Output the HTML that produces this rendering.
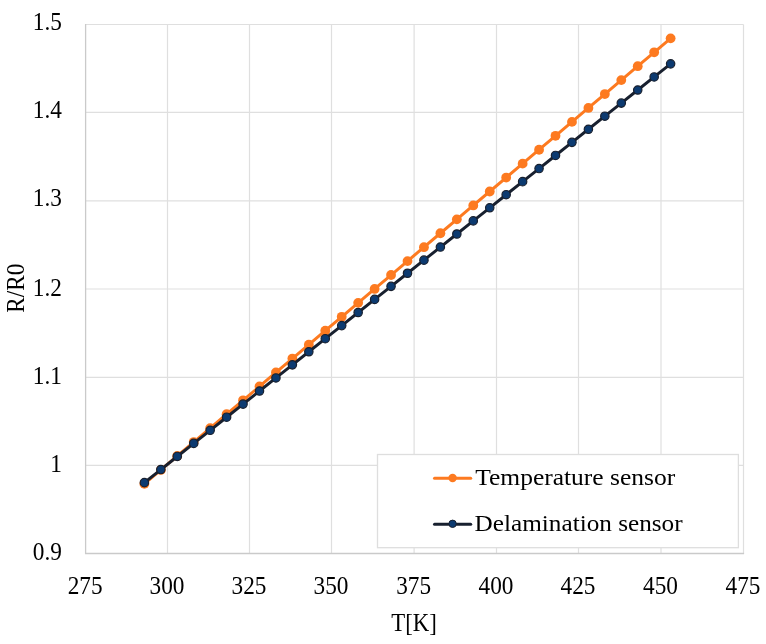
<!DOCTYPE html>
<html><head><meta charset="utf-8"><style>
html,body{margin:0;padding:0;background:#fff;}
svg{display:block;will-change:transform;}
text{font-family:"Liberation Serif",serif;font-size:24px;fill:#000;}
</style></head><body>
<svg width="766" height="644" viewBox="0 0 766 644">
<rect width="766" height="644" fill="#fff"/>
<g stroke="#DFDFDF" stroke-width="1.2" fill="none"><line x1="167.5" y1="24.5" x2="167.5" y2="553.5"/><line x1="249.5" y1="24.5" x2="249.5" y2="553.5"/><line x1="331.5" y1="24.5" x2="331.5" y2="553.5"/><line x1="414.1" y1="24.5" x2="414.1" y2="553.5"/><line x1="496.5" y1="24.5" x2="496.5" y2="553.5"/><line x1="578.5" y1="24.5" x2="578.5" y2="553.5"/><line x1="661.0" y1="24.5" x2="661.0" y2="553.5"/><line x1="743.5" y1="24.5" x2="743.5" y2="553.5"/><line x1="85.6" y1="24.5" x2="743.5" y2="24.5"/><line x1="85.6" y1="112.4" x2="743.5" y2="112.4"/><line x1="85.6" y1="200.8" x2="743.5" y2="200.8"/><line x1="85.6" y1="289.0" x2="743.5" y2="289.0"/><line x1="85.6" y1="377.3" x2="743.5" y2="377.3"/><line x1="85.6" y1="465.4" x2="743.5" y2="465.4"/></g>
<g stroke="#CACACA" stroke-width="1.3" fill="none"><line x1="85.6" y1="23.9" x2="85.6" y2="554.1"/><line x1="85.0" y1="553.5" x2="744.1" y2="553.5"/></g>
<polyline points="144.38,483.85 160.83,469.93 177.27,456.00 193.72,442.08 210.16,428.16 226.61,414.24 243.05,400.32 259.50,386.40 275.94,372.48 292.39,358.55 308.83,344.63 325.28,330.71 341.72,316.79 358.17,302.87 374.61,288.95 391.06,275.02 407.50,261.10 423.95,247.18 440.39,233.26 456.84,219.34 473.28,205.42 489.73,191.50 506.17,177.57 522.62,163.65 539.06,149.73 555.51,135.81 571.95,121.89 588.40,107.97 604.84,94.04 621.29,80.12 637.73,66.20 654.18,52.28 670.62,38.36" fill="none" stroke="#FD7A20" stroke-width="3.0" stroke-linejoin="round"/>
<circle cx="144.38" cy="483.85" r="4.9" fill="#FD7A20"/><circle cx="160.83" cy="469.93" r="4.9" fill="#FD7A20"/><circle cx="177.27" cy="456.00" r="4.9" fill="#FD7A20"/><circle cx="193.72" cy="442.08" r="4.9" fill="#FD7A20"/><circle cx="210.16" cy="428.16" r="4.9" fill="#FD7A20"/><circle cx="226.61" cy="414.24" r="4.9" fill="#FD7A20"/><circle cx="243.05" cy="400.32" r="4.9" fill="#FD7A20"/><circle cx="259.50" cy="386.40" r="4.9" fill="#FD7A20"/><circle cx="275.94" cy="372.48" r="4.9" fill="#FD7A20"/><circle cx="292.39" cy="358.55" r="4.9" fill="#FD7A20"/><circle cx="308.83" cy="344.63" r="4.9" fill="#FD7A20"/><circle cx="325.28" cy="330.71" r="4.9" fill="#FD7A20"/><circle cx="341.72" cy="316.79" r="4.9" fill="#FD7A20"/><circle cx="358.17" cy="302.87" r="4.9" fill="#FD7A20"/><circle cx="374.61" cy="288.95" r="4.9" fill="#FD7A20"/><circle cx="391.06" cy="275.02" r="4.9" fill="#FD7A20"/><circle cx="407.50" cy="261.10" r="4.9" fill="#FD7A20"/><circle cx="423.95" cy="247.18" r="4.9" fill="#FD7A20"/><circle cx="440.39" cy="233.26" r="4.9" fill="#FD7A20"/><circle cx="456.84" cy="219.34" r="4.9" fill="#FD7A20"/><circle cx="473.28" cy="205.42" r="4.9" fill="#FD7A20"/><circle cx="489.73" cy="191.50" r="4.9" fill="#FD7A20"/><circle cx="506.17" cy="177.57" r="4.9" fill="#FD7A20"/><circle cx="522.62" cy="163.65" r="4.9" fill="#FD7A20"/><circle cx="539.06" cy="149.73" r="4.9" fill="#FD7A20"/><circle cx="555.51" cy="135.81" r="4.9" fill="#FD7A20"/><circle cx="571.95" cy="121.89" r="4.9" fill="#FD7A20"/><circle cx="588.40" cy="107.97" r="4.9" fill="#FD7A20"/><circle cx="604.84" cy="94.04" r="4.9" fill="#FD7A20"/><circle cx="621.29" cy="80.12" r="4.9" fill="#FD7A20"/><circle cx="637.73" cy="66.20" r="4.9" fill="#FD7A20"/><circle cx="654.18" cy="52.28" r="4.9" fill="#FD7A20"/><circle cx="670.62" cy="38.36" r="4.9" fill="#FD7A20"/>
<polyline points="144.38,482.65 160.83,469.56 177.27,456.47 193.72,443.39 210.16,430.30 226.61,417.21 243.05,404.12 259.50,391.04 275.94,377.95 292.39,364.86 308.83,351.77 325.28,338.69 341.72,325.60 358.17,312.51 374.61,299.42 391.06,286.34 407.50,273.25 423.95,260.16 440.39,247.07 456.84,233.99 473.28,220.90 489.73,207.81 506.17,194.72 522.62,181.64 539.06,168.55 555.51,155.46 571.95,142.37 588.40,129.29 604.84,116.20 621.29,103.11 637.73,90.02 654.18,76.94 670.62,63.85" fill="none" stroke="#18202F" stroke-width="3.0" stroke-linejoin="round"/>
<circle cx="144.38" cy="482.65" r="4.2" fill="#0C3A70" stroke="#18202F" stroke-width="1.2"/><circle cx="160.83" cy="469.56" r="4.2" fill="#0C3A70" stroke="#18202F" stroke-width="1.2"/><circle cx="177.27" cy="456.47" r="4.2" fill="#0C3A70" stroke="#18202F" stroke-width="1.2"/><circle cx="193.72" cy="443.39" r="4.2" fill="#0C3A70" stroke="#18202F" stroke-width="1.2"/><circle cx="210.16" cy="430.30" r="4.2" fill="#0C3A70" stroke="#18202F" stroke-width="1.2"/><circle cx="226.61" cy="417.21" r="4.2" fill="#0C3A70" stroke="#18202F" stroke-width="1.2"/><circle cx="243.05" cy="404.12" r="4.2" fill="#0C3A70" stroke="#18202F" stroke-width="1.2"/><circle cx="259.50" cy="391.04" r="4.2" fill="#0C3A70" stroke="#18202F" stroke-width="1.2"/><circle cx="275.94" cy="377.95" r="4.2" fill="#0C3A70" stroke="#18202F" stroke-width="1.2"/><circle cx="292.39" cy="364.86" r="4.2" fill="#0C3A70" stroke="#18202F" stroke-width="1.2"/><circle cx="308.83" cy="351.77" r="4.2" fill="#0C3A70" stroke="#18202F" stroke-width="1.2"/><circle cx="325.28" cy="338.69" r="4.2" fill="#0C3A70" stroke="#18202F" stroke-width="1.2"/><circle cx="341.72" cy="325.60" r="4.2" fill="#0C3A70" stroke="#18202F" stroke-width="1.2"/><circle cx="358.17" cy="312.51" r="4.2" fill="#0C3A70" stroke="#18202F" stroke-width="1.2"/><circle cx="374.61" cy="299.42" r="4.2" fill="#0C3A70" stroke="#18202F" stroke-width="1.2"/><circle cx="391.06" cy="286.34" r="4.2" fill="#0C3A70" stroke="#18202F" stroke-width="1.2"/><circle cx="407.50" cy="273.25" r="4.2" fill="#0C3A70" stroke="#18202F" stroke-width="1.2"/><circle cx="423.95" cy="260.16" r="4.2" fill="#0C3A70" stroke="#18202F" stroke-width="1.2"/><circle cx="440.39" cy="247.07" r="4.2" fill="#0C3A70" stroke="#18202F" stroke-width="1.2"/><circle cx="456.84" cy="233.99" r="4.2" fill="#0C3A70" stroke="#18202F" stroke-width="1.2"/><circle cx="473.28" cy="220.90" r="4.2" fill="#0C3A70" stroke="#18202F" stroke-width="1.2"/><circle cx="489.73" cy="207.81" r="4.2" fill="#0C3A70" stroke="#18202F" stroke-width="1.2"/><circle cx="506.17" cy="194.72" r="4.2" fill="#0C3A70" stroke="#18202F" stroke-width="1.2"/><circle cx="522.62" cy="181.64" r="4.2" fill="#0C3A70" stroke="#18202F" stroke-width="1.2"/><circle cx="539.06" cy="168.55" r="4.2" fill="#0C3A70" stroke="#18202F" stroke-width="1.2"/><circle cx="555.51" cy="155.46" r="4.2" fill="#0C3A70" stroke="#18202F" stroke-width="1.2"/><circle cx="571.95" cy="142.37" r="4.2" fill="#0C3A70" stroke="#18202F" stroke-width="1.2"/><circle cx="588.40" cy="129.29" r="4.2" fill="#0C3A70" stroke="#18202F" stroke-width="1.2"/><circle cx="604.84" cy="116.20" r="4.2" fill="#0C3A70" stroke="#18202F" stroke-width="1.2"/><circle cx="621.29" cy="103.11" r="4.2" fill="#0C3A70" stroke="#18202F" stroke-width="1.2"/><circle cx="637.73" cy="90.02" r="4.2" fill="#0C3A70" stroke="#18202F" stroke-width="1.2"/><circle cx="654.18" cy="76.94" r="4.2" fill="#0C3A70" stroke="#18202F" stroke-width="1.2"/><circle cx="670.62" cy="63.85" r="4.2" fill="#0C3A70" stroke="#18202F" stroke-width="1.2"/>
<rect x="377.5" y="454.5" width="360.9" height="93.2" fill="#fff" stroke="#DEDEDE" stroke-width="1.3"/>
<line x1="434.5" y1="478.2" x2="470.7" y2="478.2" stroke="#FD7A20" stroke-width="3" stroke-linecap="round"/>
<circle cx="452.6" cy="478.0" r="4.2" fill="#FD7A20"/>
<line x1="434.5" y1="524.2" x2="470.7" y2="524.2" stroke="#18202F" stroke-width="3" stroke-linecap="round"/>
<circle cx="452.6" cy="523.8" r="3.7" fill="#0C3A70" stroke="#18202F" stroke-width="1"/>
<text transform="translate(475.20,485.10) scale(1,1.0)" textLength="200" lengthAdjust="spacingAndGlyphs">Temperature sensor</text>
<text transform="translate(474.60,530.80) scale(1,1.0)" textLength="208" lengthAdjust="spacingAndGlyphs">Delamination sensor</text>
<text transform="translate(61.90,559.80) scale(0.97,1.04)" text-anchor="end">0.9</text><text transform="translate(61.90,471.90) scale(0.97,1.04)" text-anchor="end">1</text><text transform="translate(61.90,384.00) scale(0.97,1.04)" text-anchor="end">1.1</text><text transform="translate(61.90,295.70) scale(0.97,1.04)" text-anchor="end">1.2</text><text transform="translate(61.90,206.30) scale(0.97,1.04)" text-anchor="end">1.3</text><text transform="translate(61.90,118.00) scale(0.97,1.04)" text-anchor="end">1.4</text><text transform="translate(61.90,29.90) scale(0.97,1.04)" text-anchor="end">1.5</text>
<text transform="translate(85.10,593.90) scale(0.97,1.04)" text-anchor="middle">275</text><text transform="translate(167.00,593.90) scale(0.97,1.04)" text-anchor="middle">300</text><text transform="translate(249.00,593.90) scale(0.97,1.04)" text-anchor="middle">325</text><text transform="translate(331.00,593.90) scale(0.97,1.04)" text-anchor="middle">350</text><text transform="translate(413.60,593.90) scale(0.97,1.04)" text-anchor="middle">375</text><text transform="translate(496.00,593.90) scale(0.97,1.04)" text-anchor="middle">400</text><text transform="translate(578.00,593.90) scale(0.97,1.04)" text-anchor="middle">425</text><text transform="translate(660.50,593.90) scale(0.97,1.04)" text-anchor="middle">450</text><text transform="translate(743.00,593.90) scale(0.97,1.04)" text-anchor="middle">475</text>
<text transform="translate(414.00,630.60) scale(0.95,1.05)" text-anchor="middle">T[K]</text>
<text transform="translate(24.1,288.1) rotate(-90) scale(0.97,1.07)" text-anchor="middle">R/R0</text>
</svg>
</body></html>
